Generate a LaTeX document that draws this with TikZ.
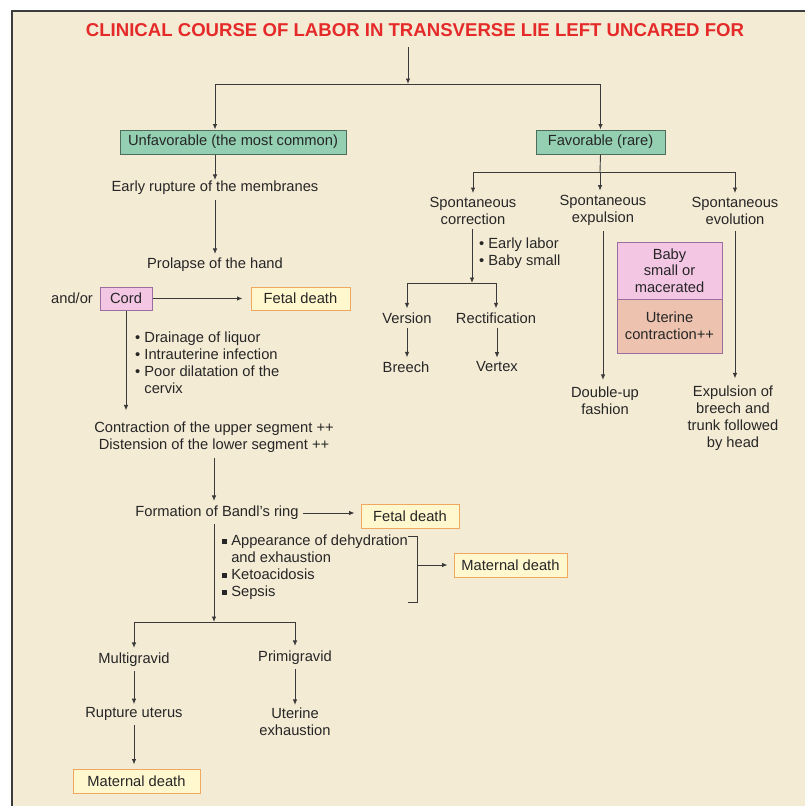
\documentclass[tikz,border=0pt]{standalone}
\usepackage{fontspec}
\setmainfont{Liberation Sans}
\usetikzlibrary{arrows.meta}

\definecolor{bgcream}{HTML}{F4EBD5}
\definecolor{framegray}{HTML}{3C3C3C}
\definecolor{titlered}{HTML}{E52A2A}
\definecolor{txtgray}{HTML}{262626}
\definecolor{linegray}{HTML}{3A3A3A}
\definecolor{greenfill}{HTML}{93CFB0}
\definecolor{greenedge}{HTML}{4C6C5C}
\definecolor{pinkfill}{HTML}{F3C6E3}
\definecolor{salmonfill}{HTML}{EDC3B0}
\definecolor{purpleedge}{HTML}{9A6FA0}
\definecolor{yellowfill}{HTML}{FFF7CE}
\definecolor{orangeedge}{HTML}{F0A860}

\newcommand{\sqbul}{\rule[2pt]{5pt}{5pt}\ }

\begin{document}
\begin{tikzpicture}[x=1pt, y=-1pt,
    every node/.style={text=txtgray, font=\fontsize{14.7}{17}\selectfont, inner sep=1pt, align=center},
    arr/.style={draw=linegray, line width=0.9pt, -{Latex[length=5.5pt,width=4.5pt]}},
    ln/.style={draw=linegray, line width=0.9pt},
    greenbox/.style={draw=greenedge, fill=greenfill, line width=1pt, minimum height=24pt},
    pinkbox/.style={draw=purpleedge, fill=pinkfill, line width=1pt},
    salmonbox/.style={draw=purpleedge, fill=salmonfill, line width=1pt},
    deathbox/.style={draw=orangeedge, fill=yellowfill, line width=1pt, minimum height=24pt}]

    % frame and background
    \useasboundingbox (0,0) rectangle (805,806);
    \fill[bgcream] (12,11) rectangle (805,806);
    \draw[framegray, line width=2pt] (12,806) -- (12,11) -- (805,11);

    \node (title) at (415,30) {\fontsize{18.6}{20}\selectfont\bfseries\color{titlered}CLINICAL COURSE OF LABOR IN TRANSVERSE LIE LEFT UNCARED FOR};
    \coordinate (t0) at (408,47);
    \coordinate (tsplit) at (408,84);

    % left branch
    \node[greenbox, minimum width=226pt] (unfav) at (233,142) {Unfavorable (the most common)};
    \node (early) at (215,188) {Early rupture of the membranes};
    \node (prolapse) at (215,265) {Prolapse of the hand};
    \node (andor) at (72,298) {and/or};
    \node[pinkbox, minimum width=52pt, minimum height=23pt] (cord) at (126,298.5) {Cord};
    \node[deathbox, minimum width=99pt, minimum height=23pt] (fetalA) at (300.5,298.5) {Fetal death};
    \node[anchor=north west, align=left] (liquor) at (134,331) {• Drainage of liquor\\• Intrauterine infection\\• Poor dilatation of the\\\hphantom{•\ }cervix};
    \node (contr) at (214,437) {Contraction of the upper segment ++\\Distension of the lower segment ++};
    \node (bandl) at (217,513) {Formation of Bandl’s ring};
    \node[deathbox, minimum width=98pt] (fetalB) at (410,516) {Fetal death};
    \node[anchor=north west, align=left] (dehyd) at (221,534) {\sqbul Appearance of dehydration\\\hphantom{\sqbul}and exhaustion\\\sqbul Ketoacidosis\\\sqbul Sepsis};
    \node[deathbox, minimum width=113pt] (matA) at (510.5,565) {Maternal death};
    \coordinate (brA) at (408,536);
    \coordinate (brB) at (417,536);
    \coordinate (brC) at (417,602);
    \coordinate (brD) at (408,602);
    \coordinate (brM) at (417,565);
    \coordinate (gsplit) at (214,622);
    \node (multi) at (134,660) {Multigravid};
    \node (primi) at (295,658) {Primigravid};
    \node (rupt) at (134,714) {Rupture uterus};
    \node (uterex) at (295,722) {Uterine\\exhaustion};
    \node[deathbox, minimum width=127pt] (matB) at (136.5,781) {Maternal death};

    % right branch
    \node[greenbox, minimum width=129pt] (fav) at (600.5,142) {Favorable (rare)};
    \coordinate (fsplit) at (600,172);
    \node (corr) at (473,211) {Spontaneous\\correction};
    \node (expul) at (603,210) {Spontaneous\\expulsion};
    \node (evol) at (735,211) {Spontaneous\\evolution};
    \node[anchor=north west, align=left] (small) at (478,237) {• Early labor\\• Baby small};
    \coordinate (csplit) at (472,283);
    \node (version) at (407,318) {Version};
    \node (rectif) at (496,318) {Rectification};
    \node (breech) at (406,367) {Breech};
    \node (vertex) at (497,367) {Vertex};
    \node (dbl) at (605,401) {Double-up\\fashion};
    \node (expb) at (733,418) {Expulsion of\\breech and\\trunk followed\\by head};
    \node[pinkbox, minimum width=105pt, minimum height=57pt, font=\fontsize{14.7}{16.5}\selectfont] (baby) at (669.5,270.5) {Baby\\small or\\macerated};
    \node[salmonbox, minimum width=105pt, minimum height=54pt] (utc) at (669.5,326) {Uterine\\contraction++};

    % connectors
    \draw[arr] (t0) -- (tsplit);
    \draw[arr] (tsplit) -| (early |- unfav.north);
    \draw[arr] (tsplit) -| (fav.north);
    \draw[arr] (early |- unfav.south) -- (early.north);
    \draw[arr, shorten <=4pt, shorten >=3pt] (early.south) -- (prolapse.north);
    \draw[arr, shorten >=8pt] (cord.east) -- (fetalA.west);
    \draw[arr, shorten >=10pt] (cord.south) -- (cord.south |- contr.north);
    \draw[arr, shorten <=4pt, shorten >=4pt] (contr.south) -- (contr.south |- bandl.north);
    \draw[arr, shorten <=3pt, shorten >=6pt] (bandl.east) -- (bandl.east -| fetalB.west);
    \draw[ln] (brA) -- (brB) -- (brC) -- (brD);
    \draw[arr, shorten >=6pt] (brM) -- (matA.west);
    \draw[arr, shorten <=3pt] (contr.south |- bandl.south) -- (gsplit);
    \draw[arr, shorten >=4pt] (gsplit) -| (multi.north);
    \draw[arr, shorten >=4pt] (gsplit) -| (primi.north);
    \draw[arr, shorten <=3pt, shorten >=2pt] (multi.south) -- (rupt.north);
    \draw[arr, shorten <=3pt, shorten >=2pt] (primi.south) -- (uterex.north);
    \draw[arr, shorten <=3pt, shorten >=4pt] (rupt.south) -- (rupt.south |- matB.north);

    \draw[ln] (fav.south) -- (fsplit);
    \draw[arr, shorten >=3pt] (fsplit) -| (corr.north);
    \draw[arr, shorten >=3pt] (fsplit) -- (fsplit |- expul.north);
    \draw[arr, shorten >=3pt] (fsplit) -| (evol.north);
    \draw[arr, shorten <=3pt] (corr.south -| csplit) -- (csplit);
    \draw[arr, shorten >=3pt] (csplit) -| (version.north);
    \draw[arr, shorten >=3pt] (csplit) -| (rectif.north);
    \draw[arr, shorten <=3pt, shorten >=3pt] (version.south) -- (version.south |- breech.north);
    \draw[arr, shorten <=3pt, shorten >=3pt] (vertex |- rectif.south) -- (vertex.north);
    \draw[arr, shorten <=5pt, shorten >=6pt] (expul.south) -- (expul.south |- dbl.north);
    \draw[arr, shorten <=5pt, shorten >=6pt] (evol.south) -- (evol.south |- expb.north);
\end{tikzpicture}
\end{document}
